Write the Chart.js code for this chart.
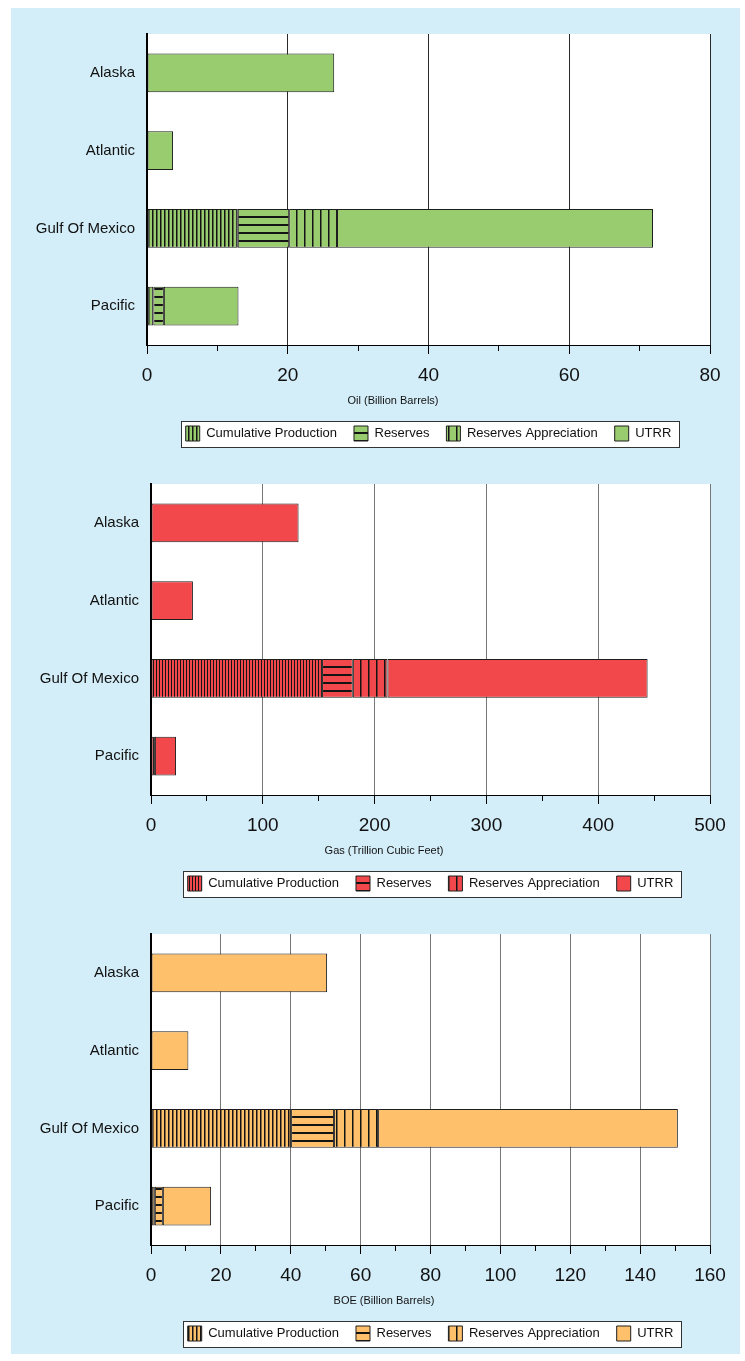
<!DOCTYPE html>
<html>
<head>
<meta charset="utf-8">
<title>OCS Resources</title>
<script src="https://cdn.jsdelivr.net/npm/chart.js@4.4.1/dist/chart.umd.min.js"></script>
<style>
  html, body { margin:0; padding:0; background:#ffffff; width:745px; height:1361px; overflow:hidden; }
  #bg { position:absolute; left:11px; top:8px; width:729px; height:1346px; background:#D4EEF9; }
  canvas { position:absolute; left:0; }
</style>
</head>
<body>
<div id="bg"></div>
<canvas id="oil" width="745" height="460" style="top:0px"></canvas>
<canvas id="gas" width="745" height="460" style="top:450px"></canvas>
<canvas id="boe" width="745" height="460" style="top:900px"></canvas>
<script>
// ---------- data ----------
const categories  = ['Alaska', 'Atlantic', 'Gulf Of Mexico', 'Pacific'];
const seriesNames = ['Cumulative Production', 'Reserves', 'Reserves Appreciation', 'UTRR'];

const oilCumulative   = [0, 0, 12.9, 0.9];
const oilReserves     = [0, 0, 7.3, 1.5];
const oilAppreciation = [0, 0, 6.8, 0];
const oilUTRR         = [26.6, 3.7, 44.9, 10.6];
const oilTickLabels   = [0, 20, 40, 60, 80];

const gasCumulative   = [0, 0, 153, 3.5];
const gasReserves     = [0, 0, 27.5, 0];
const gasAppreciation = [0, 0, 31, 0];
const gasUTRR         = [132, 37.5, 232.7, 18.9];
const gasTickLabels   = [0, 100, 200, 300, 400, 500];

const boeCumulative   = [0, 0, 40.1, 1.1];
const boeReserves     = [0, 0, 12.3, 2.3];
const boeAppreciation = [0, 0, 12.6, 0];
const boeUTRR         = [50.4, 10.7, 85.8, 13.8];
const boeTickLabels   = [0, 20, 40, 60, 80, 100, 120, 140, 160];

// ---------- styling helpers ----------
const FONT = "'Liberation Sans', Arial, sans-serif";

function stripe(ctx, base, orient, period, lw, lineColor) {
  const c = document.createElement('canvas');
  if (orient === 'v') { c.width = period; c.height = 4; } else { c.width = 4; c.height = period; }
  const g = c.getContext('2d');
  g.fillStyle = base; g.fillRect(0, 0, c.width, c.height);
  g.fillStyle = lineColor;
  if (orient === 'v') g.fillRect(0, 0, lw, c.height); else g.fillRect(0, 0, c.width, lw);
  return ctx.createPattern(c, 'repeat');
}

const panelPlugin = {
  id: 'panelDeco',
  beforeDraw(chart) {
    const {ctx, chartArea: a, legend} = chart;
    ctx.save();
    ctx.fillStyle = '#ffffff';
    ctx.fillRect(a.left, a.top, a.right - a.left, a.bottom - a.top);
    if (legend && legend.legendHitBoxes && legend.legendHitBoxes.length) {
      const hb = legend.legendHitBoxes;
      let l = Infinity, r = -Infinity, t = Infinity, b = -Infinity;
      hb.forEach(h => { l = Math.min(l, h.left); r = Math.max(r, h.left + h.width); t = Math.min(t, h.top); b = Math.max(b, h.top + h.height); });
      const cy = (t + b) / 2;
      const x0 = Math.round(l - 5) + 0.5, x1 = Math.round(r + 8) + 0.5;
      const y0 = Math.round(cy - 13) + 0.5, y1 = Math.round(cy + 13) + 0.5;
      ctx.fillStyle = '#ffffff';
      ctx.fillRect(x0, y0, x1 - x0, y1 - y0);
      ctx.strokeStyle = '#333333';
      ctx.lineWidth = 1;
      ctx.strokeRect(x0, y0, x1 - x0, y1 - y0);
    }
    ctx.restore();
  },
  afterDraw(chart, args, opts) {
    if (!opts || !opts.text) return;
    const {ctx} = chart;
    const xs = chart.scales.x;
    ctx.save();
    ctx.font = '11px ' + FONT;
    ctx.fillStyle = '#111';
    ctx.textAlign = 'center';
    ctx.textBaseline = 'middle';
    ctx.fillText(opts.text, opts.x, xs.bottom - 7.6);
    ctx.restore();
  }
};

function buildChart(id, cfg) {
  const canvas = document.getElementById(id);
  const ctx = canvas.getContext('2d');
  const dark = '#141414';
  const fills = [
    stripe(ctx, cfg.color, 'v', cfg.cumPeriod, cfg.cumLine, dark),
    stripe(ctx, cfg.color, 'h', 8, 2, dark),
    stripe(ctx, cfg.color, 'v', 8, 1.5, dark),
    cfg.color
  ];
  const values = [cfg.cum, cfg.res, cfg.app, cfg.utrr];
  const isMajor = c => c.tick && cfg.labels.includes(c.tick.value);
  return new Chart(ctx, {
    type: 'bar',
    data: {
      labels: categories,
      datasets: seriesNames.map((name, i) => ({
        label: name,
        data: values[i],
        backgroundColor: fills[i],
        borderColor: '#1e1e1e',
        borderWidth: 1,
        borderSkipped: false,
        barPercentage: 0.5,
        categoryPercentage: 1
      }))
    },
    options: {
      indexAxis: 'y',
      responsive: false,
      animation: false,
      events: [],
      layout: { padding: { top: 34, right: 35, left: 0, bottom: 9 } },
      scales: {
        x: {
          type: 'linear', stacked: true, min: 0, max: cfg.max,
          afterFit: s => { s.height = 64; },
          ticks: {
            stepSize: cfg.step, autoSkip: false, maxRotation: 0, minRotation: 0,
            padding: 10.5, color: '#111', font: { family: FONT, size: 19 },
            callback: v => cfg.labels.includes(v) ? String(v) : ''
          },
          grid: {
            color: c => isMajor(c) ? cfg.gridColor : 'rgba(0,0,0,0)',
            tickColor: '#000', tickLength: 9, lineWidth: 1,
            tickBorderDash: c => isMajor(c) ? [] : [5, 30]
          },
          border: { display: true, color: '#000', width: 1 },
          title: { display: false }
        },
        y: {
          type: 'category', stacked: true,
          afterFit: s => { s.width = cfg.left; },
          grid: { display: true, drawOnChartArea: false, drawTicks: false },
          border: { display: true, color: '#000', width: 2 },
          ticks: { padding: 12, color: '#111', font: { family: FONT, size: 15 } }
        }
      },
      plugins: {
        legend: {
          position: 'bottom', fullSize: false, align: 'center',
          labels: { boxWidth: 14, boxHeight: 15, padding: 17, color: '#111', font: { family: FONT, size: 13 } }
        },
        tooltip: { enabled: false },
        panelDeco: { text: cfg.title, x: cfg.titleX }
      }
    },
    plugins: [panelPlugin]
  });
}

buildChart('oil', {
  color: '#99CC6E', cum: oilCumulative, res: oilReserves, app: oilAppreciation, utrr: oilUTRR,
  labels: oilTickLabels, max: 80, step: 10, title: 'Oil (Billion Barrels)', titleX: 393, left: 147,
  cumPeriod: 4, cumLine: 1.5, gridColor: '#2a2a2a'
});
buildChart('gas', {
  color: '#F2484C', cum: gasCumulative, res: gasReserves, app: gasAppreciation, utrr: gasUTRR,
  labels: gasTickLabels, max: 500, step: 50, title: 'Gas (Trillion Cubic Feet)', titleX: 384, left: 151,
  cumPeriod: 3, cumLine: 1, gridColor: '#777777'
});
buildChart('boe', {
  color: '#FFC06C', cum: boeCumulative, res: boeReserves, app: boeAppreciation, utrr: boeUTRR,
  labels: boeTickLabels, max: 160, step: 10, title: 'BOE (Billion Barrels)', titleX: 384, left: 151,
  cumPeriod: 4, cumLine: 1.5, gridColor: '#777777'
});
</script>
</body>
</html>
